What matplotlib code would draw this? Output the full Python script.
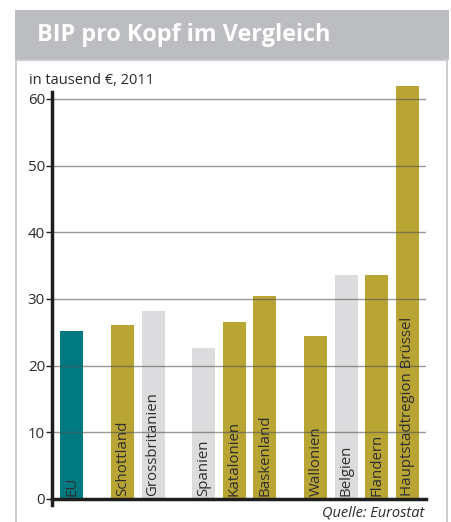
import matplotlib
matplotlib.use("Agg")
import matplotlib.pyplot as plt
from matplotlib.patches import Rectangle

categories = ["EU", "Schottland", "Grossbritanien", "Spanien", "Katalonien",
              "Baskenland", "Wallonien", "Belgien", "Flandern",
              "Hauptstadtregion Brüssel"]
values = [25.2, 26.1, 28.2, 22.7, 26.6, 30.5, 24.5, 33.6, 33.6, 62.0]
kinds = ["eu", "region", "country", "country", "region", "region",
         "region", "country", "region", "region"]
positions = [0, 1.67, 2.67, 4.33, 5.33, 6.33, 8, 9, 10, 11]
yticks = [0, 10, 20, 30, 40, 50, 60]

colors = {"eu": "#007a80", "region": "#b9a534", "country": "#dcdcde"}

plt.rcParams['font.family'] = ['Open Sans', 'DejaVu Sans']

W, H = 451, 522
fig = plt.figure(figsize=(W / 100, H / 100), dpi=100)
fig.patch.set_facecolor("white")

def fx(px):
    return px / W

def fy(py):
    return 1 - py / H

# header band
fig.patches.append(Rectangle((fx(15), fy(60)), fx(449) - fx(15), fy(10) - fy(60),
                             transform=fig.transFigure, facecolor="#bcbdc0",
                             edgecolor="none", zorder=0))
# panel border
fig.patches.append(Rectangle((fx(16), fy(530)), fx(447) - fx(16), fy(60) - fy(530),
                             transform=fig.transFigure, facecolor="none",
                             edgecolor="#c8c8ca", linewidth=1.3, zorder=0))

fig.text(fx(37), fy(35), "BIP pro Kopf im Vergleich", color="white",
         fontsize=16.8, fontweight="bold", va="center", ha="left")
fig.text(fx(29), fy(80), "in tausend €, 2011", color="#2a2a2a",
         fontsize=10.5, va="center", ha="left")

ymax = 63
ax = fig.add_axes([fx(52), 23 / H, (426 - 52) / W, (ymax * 400 / 60) / H])
ax.set_zorder(2)
ax.set_facecolor("none")

bar_colors = [colors[k] for k in kinds]
ax.bar(positions, values, width=0.75, color=bar_colors, zorder=1)

for y in yticks[1:]:
    ax.axhline(y, color="#555555", linewidth=1, alpha=0.6, zorder=2)

for x, lab in zip(positions, categories):
    ax.text(x, 0.4, lab, rotation=90, ha="center", va="bottom",
            fontsize=10.8, color="#2e2e2e", zorder=3)

ax.set_xlim(-0.64, 11.61)
ax.set_ylim(0, ymax)
ax.set_xticks([])
ax.set_yticks(yticks)
ax.set_yticklabels([str(t) for t in yticks], fontsize=10.8, color="#2a2a2a")
ax.tick_params(axis="y", length=4, width=1, color="#222222", pad=1)

for s in ["top", "right"]:
    ax.spines[s].set_visible(False)
ax.spines["left"].set_linewidth(2.5)
ax.spines["left"].set_color("#1e1e1e")
ax.spines["left"].set_bounds(-0.9, 61.1)
ax.spines["bottom"].set_linewidth(2.5)
ax.spines["bottom"].set_color("#1e1e1e")

fig.text(fx(424), fy(513), "Quelle: Eurostat", color="#2a2a2a",
         fontsize=10.5, style="italic", ha="right", va="center")

fig.savefig("out.png", dpi=100)
